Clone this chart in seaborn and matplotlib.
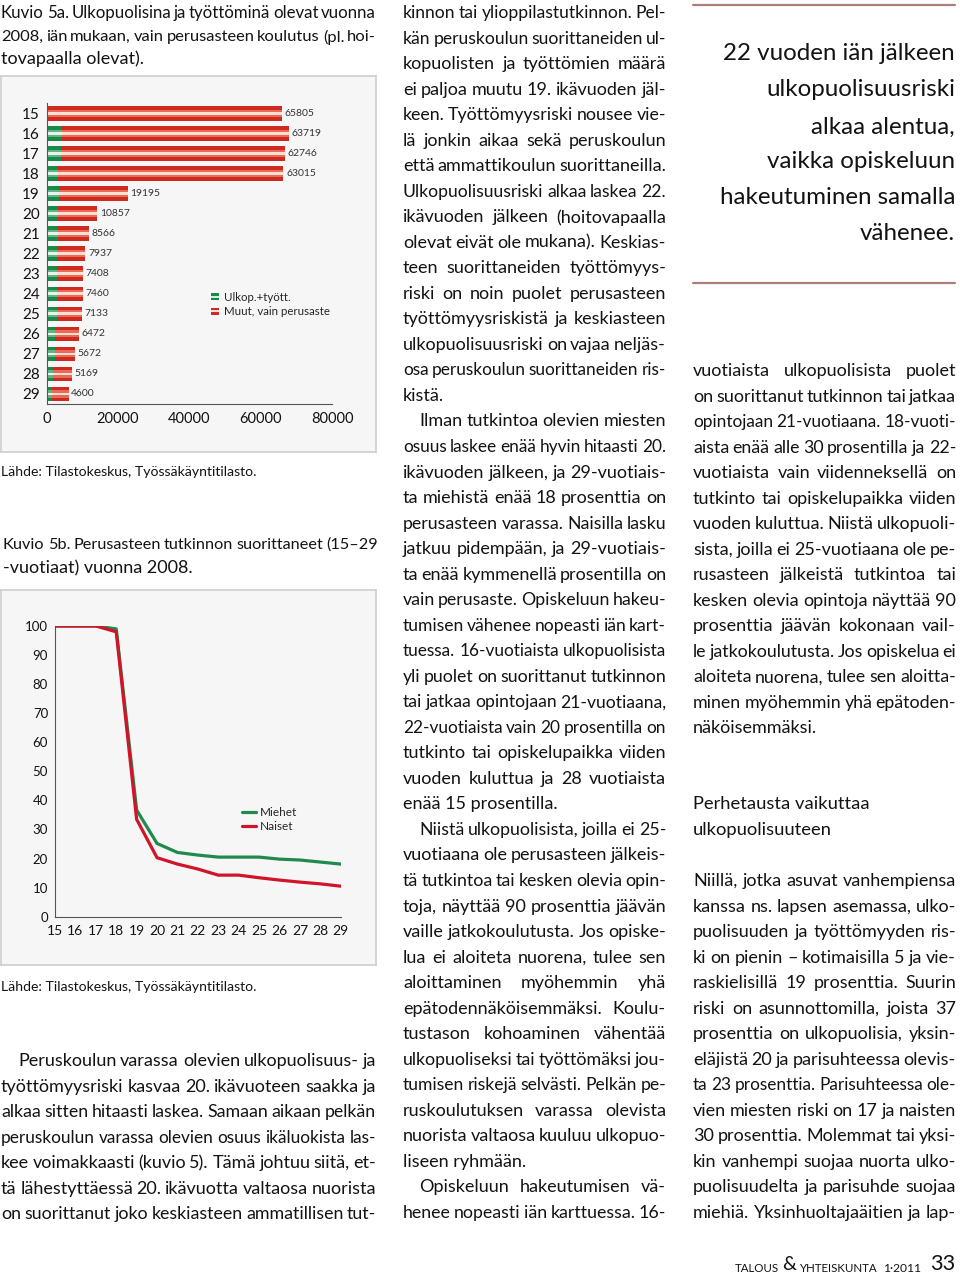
import matplotlib
matplotlib.use('Agg')
import matplotlib.pyplot as plt
from matplotlib.lines import Line2D
from matplotlib.patches import Patch
from matplotlib.legend_handler import HandlerTuple
import seaborn as sns
import pandas as pd

# Kuvio 5a: counts by age (vain perusaste)
ages = [str(a) for a in range(15, 30)]
ulkop_tyott = [150, 4200, 4000, 3250, 3530, 3350, 3250, 2970, 2800, 2800, 2800, 2500, 2250, 1850, 1570]
muut_perusaste = [65805, 63719, 62746, 63015, 19195, 10857, 8566, 7937, 7408, 7460, 7133, 6472, 5672, 5169, 4600]
x_ticks_5a = [0, 20000, 40000, 60000, 80000]

# Kuvio 5b: share with only basic education, %
ika = list(range(15, 30))
miehet = [100, 100, 100, 99, 36.7, 25.2, 22.1, 21.2, 20.5, 20.5, 20.5, 19.8, 19.5, 18.8, 18.1]
naiset = [100, 100, 100, 98, 33.5, 20.3, 18.1, 16.4, 14.3, 14.3, 13.4, 12.6, 11.9, 11.3, 10.5]

caption_5a = ["Kuvio 5a. Ulkopuolisina ja työttöminä olevat vuonna",
              "2008, iän mukaan, vain perusasteen koulutus (pl. hoi-",
              "tovapaalla olevat)."]
caption_5b = ["Kuvio 5b. Perusasteen tutkinnon suorittaneet (15–29",
              "-vuotiaat) vuonna 2008."]
source = "Lähde: Tilastokeskus, Työssäkäyntitilasto."

left_text = [(["Peruskoulun varassa olevien ulkopuolisuus- ja",
               "työttömyysriski kasvaa 20. ikävuoteen saakka ja",
               "alkaa sitten hitaasti laskea. Samaan aikaan pelkän",
               "peruskoulun varassa olevien osuus ikäluokista las-",
               "kee voimakkaasti (kuvio 5). Tämä johtuu siitä, et-",
               "tä lähestyttäessä 20. ikävuotta valtaosa nuorista",
               "on suorittanut joko keskiasteen ammatillisen tut-"], True, False)]

middle_text = [
    (["kinnon tai ylioppilastutkinnon. Pel-",
      "kän peruskoulun suorittaneiden ul-",
      "kopuolisten ja työttömien määrä",
      "ei paljoa muutu 19. ikävuoden jäl-",
      "keen. Työttömyysriski nousee vie-",
      "lä jonkin aikaa sekä peruskoulun",
      "että ammattikoulun suorittaneilla.",
      "Ulkopuolisuusriski alkaa laskea 22.",
      "ikävuoden jälkeen (hoitovapaalla",
      "olevat eivät ole mukana). Keskias-",
      "teen suorittaneiden työttömyys-",
      "riski on noin puolet perusasteen",
      "työttömyysriskistä ja keskiasteen",
      "ulkopuolisuusriski on vajaa neljäs-",
      "osa peruskoulun suorittaneiden ris-",
      "kistä."], False, True),
    (["Ilman tutkintoa olevien miesten",
      "osuus laskee enää hyvin hitaasti 20.",
      "ikävuoden jälkeen, ja 29-vuotiais-",
      "ta miehistä enää 18 prosenttia on",
      "perusasteen varassa. Naisilla lasku",
      "jatkuu pidempään, ja 29-vuotiais-",
      "ta enää kymmenellä prosentilla on",
      "vain perusaste. Opiskeluun hakeu-",
      "tumisen vähenee nopeasti iän kart-",
      "tuessa. 16-vuotiaista ulkopuolisista",
      "yli puolet on suorittanut tutkinnon",
      "tai jatkaa opintojaan 21-vuotiaana,",
      "22-vuotiaista vain 20 prosentilla on",
      "tutkinto tai opiskelupaikka viiden",
      "vuoden kuluttua ja 28 vuotiaista",
      "enää 15 prosentilla."], True, True),
    (["Niistä ulkopuolisista, joilla ei 25-",
      "vuotiaana ole perusasteen jälkeis-",
      "tä tutkintoa tai kesken olevia opin-",
      "toja, näyttää 90 prosenttia jäävän",
      "vaille jatkokoulutusta. Jos opiske-",
      "lua ei aloiteta nuorena, tulee sen",
      "aloittaminen myöhemmin yhä",
      "epätodennäköisemmäksi. Koulu-",
      "tustason kohoaminen vähentää",
      "ulkopuoliseksi tai työttömäksi jou-",
      "tumisen riskejä selvästi. Pelkän pe-",
      "ruskoulutuksen varassa olevista",
      "nuorista valtaosa kuuluu ulkopuo-",
      "liseen ryhmään."], True, True),
    (["Opiskeluun hakeutumisen vä-",
      "henee nopeasti iän karttuessa. 16-"], True, False),
]

quote = ["22 vuoden iän jälkeen", "ulkopuolisuusriski", "alkaa alentua,",
         "vaikka opiskeluun", "hakeutuminen samalla", "vähenee."]

right_text_a = [(["vuotiaista ulkopuolisista puolet",
                  "on suorittanut tutkinnon tai jatkaa",
                  "opintojaan 21-vuotiaana. 18-vuoti-",
                  "aista enää alle 30 prosentilla ja 22-",
                  "vuotiaista vain viidenneksellä on",
                  "tutkinto tai opiskelupaikka viiden",
                  "vuoden kuluttua. Niistä ulkopuoli-",
                  "sista, joilla ei 25-vuotiaana ole pe-",
                  "rusasteen jälkeistä tutkintoa tai",
                  "kesken olevia opintoja näyttää 90",
                  "prosenttia jäävän kokonaan vail-",
                  "le jatkokoulutusta. Jos opiskelua ei",
                  "aloiteta nuorena, tulee sen aloitta-",
                  "minen myöhemmin yhä epätoden-",
                  "näköisemmäksi."], False, True)]
heading = ["Perhetausta vaikuttaa", "ulkopuolisuuteen"]
right_text_b = [(["Niillä, jotka asuvat vanhempiensa",
                  "kanssa ns. lapsen asemassa, ulko-",
                  "puolisuuden ja työttömyyden ris-",
                  "ki on pienin – kotimaisilla 5 ja vie-",
                  "raskielisillä 19 prosenttia. Suurin",
                  "riski on asunnottomilla, joista 37",
                  "prosenttia on ulkopuolisia, yksin-",
                  "eläjistä 20 ja parisuhteessa olevis-",
                  "ta 23 prosenttia. Parisuhteessa ole-",
                  "vien miesten riski on 17 ja naisten",
                  "30 prosenttia. Molemmat tai yksi-",
                  "kin vanhempi suojaa nuorta ulko-",
                  "puolisuudelta ja parisuhde suojaa",
                  "miehiä. Yksinhuoltajaäitien ja lap-"], False, False)]

sns.set_theme(style='white')
plt.rcParams['font.family'] = ['Lato', 'DejaVu Sans']
INK = '#141212'

W, H = 960, 1276
fig = plt.figure(figsize=(W / 100, H / 100), dpi=100)
fig.patch.set_facecolor('white')
renderer = fig.canvas.get_renderer()


def fx(x):
    return x / W


def fy(y):
    return 1 - y / H


def box(x0, y0, x1, y1):
    return [fx(x0), fy(y1), (x1 - x0) / W, (y1 - y0) / H]


def text_width(s, size):
    t = fig.text(0, 0, s, fontsize=size)
    w = t.get_window_extent(renderer).width
    t.remove()
    return w


def fit_size(s, width, base=10):
    return base * width / text_width(s, base)


def put_line(s, x0, x1, y, size, justify=True, **kw):
    words = s.split(' ')
    if not justify or len(words) < 2:
        fig.text(fx(x0), fy(y), s, fontsize=size, va='center', color=INK, **kw)
        return
    widths = [text_width(w, size) for w in words]
    gap = (x1 - x0 - sum(widths)) / (len(words) - 1)
    # shrink a too-tight line a little
    while gap < size * 0.22:
        size *= 0.985
        widths = [text_width(w, size) for w in words]
        gap = (x1 - x0 - sum(widths)) / (len(words) - 1)
    x = x0
    for w, wd in zip(words, widths):
        fig.text(fx(x), fy(y), w, fontsize=size, va='center', color=INK, **kw)
        x += wd + gap


def draw_block(paras, x0, x1, y0, size, step=25.53, indent=16):
    y = y0
    for lines, indented, closed in paras:
        for i, s in enumerate(lines):
            start = x0 + (indent if indented and i == 0 else 0)
            last = closed and i == len(lines) - 1
            put_line(s, start, x1, y, size, justify=not last)
            y += step


BODY = 13

# ---- Kuvio 5a ----
put_line(caption_5a[0], 1, 376, 13, BODY)
put_line(caption_5a[1], 1, 376, 37, BODY)
put_line(caption_5a[2], 1, 376, 59, BODY, justify=False)

panel1 = fig.add_axes(box(1, 76, 376, 452))
panel1.set_facecolor('#f6f6f6')
panel1.set_xticks([])
panel1.set_yticks([])
for sp in panel1.spines.values():
    sp.set_color('#cfcfcf')

ax1 = fig.add_axes(box(46.5, 103.3, 332.3, 404))
ax1.set_facecolor('none')
totals = [a + b for a, b in zip(ulkop_tyott, muut_perusaste)]
red_shades = ['#cf2a20', '#ea6a55', '#fbe0d4']
green_shades = ['#178a4a', '#62b486', '#e6f4ea']
for vals, shades in [(totals, red_shades), (ulkop_tyott, green_shades)]:
    for color, w in zip(shades, [0.72, 0.36, 0.13]):
        sns.barplot(x=vals, y=ages, orient='h', color=color, width=w, saturation=1,
                    errorbar=None, linewidth=0, ax=ax1)
ax1.bar_label(ax1.containers[0], labels=[str(v) for v in muut_perusaste],
              padding=2, fontsize=7.5, color='#333333')
ax1.set_xlim(0, 80000)
ax1.set_ylim(14.5, -0.5)
ax1.set_xticks(x_ticks_5a)
ax1.set_xticklabels([str(t) for t in x_ticks_5a])
ax1.set_xlabel('')
ax1.set_ylabel('')
ax1.tick_params(axis='x', direction='in', length=3, width=0.8, color='#555555',
                labelsize=10.5, pad=6, labelcolor=INK)
ax1.tick_params(axis='y', length=0, labelsize=11, pad=5, labelcolor=INK)
for side in ['top', 'right']:
    ax1.spines[side].set_visible(False)
for side in ['left', 'bottom']:
    ax1.spines[side].set_color('#555555')
    ax1.spines[side].set_linewidth(0.8)
handles_5a = [(Patch(facecolor=green_shades[0], edgecolor='none'), Line2D([], [], color='white', lw=1.2)),
              (Patch(facecolor=red_shades[0], edgecolor='none'), Line2D([], [], color='white', lw=1.2))]
ax1.legend(handles_5a, ['Ulkop.+tyött.', 'Muut, vain perusaste'],
           handler_map={tuple: HandlerTuple(ndivide=1, pad=0)},
           loc='center left', bbox_to_anchor=(0.575, 0.331), frameon=False,
           fontsize=8.3, handlelength=0.75, handleheight=0.55, handletextpad=0.35,
           labelspacing=0.3, borderpad=0, borderaxespad=0)

fig.text(fx(1), fy(472), source, fontsize=fit_size(source, 255), va='center', color=INK)

# ---- Kuvio 5b ----
put_line(caption_5b[0], 3, 378, 545, BODY)
put_line(caption_5b[1], 3, 378, 568, BODY, justify=False)

panel2 = fig.add_axes(box(1, 590, 376, 965))
panel2.set_facecolor('#f6f6f6')
panel2.set_xticks([])
panel2.set_yticks([])
for sp in panel2.spines.values():
    sp.set_color('#cfcfcf')

ax2 = fig.add_axes(box(55, 626, 340.7, 916.7))
ax2.set_facecolor('none')
df = pd.DataFrame({'ika': ika * 2, 'osuus': miehet + naiset,
                   'sukupuoli': ['Miehet'] * len(ika) + ['Naiset'] * len(ika)})
palette = {'Miehet': '#1f8a4c', 'Naiset': '#d0142a'}
sns.lineplot(data=df, x='ika', y='osuus', hue='sukupuoli', palette=palette,
             linewidth=2.3, legend=False, ax=ax2)
ax2.set_xlim(15, 29)
ax2.set_ylim(0, 100)
ax2.set_xticks(ika)
ax2.set_yticks(range(0, 101, 10))
ax2.set_xlabel('')
ax2.set_ylabel('')
ax2.tick_params(axis='x', direction='in', length=3, width=0.8, color='#555555',
                labelsize=10, pad=6, labelcolor=INK)
ax2.tick_params(axis='y', direction='out', length=3, width=0.8, color='#555555',
                labelsize=9.5, pad=2, labelcolor=INK)
for side in ['top', 'right']:
    ax2.spines[side].set_visible(False)
for side in ['left', 'bottom']:
    ax2.spines[side].set_color('#555555')
    ax2.spines[side].set_linewidth(0.8)
ax2.legend([Line2D([], [], color=palette[k], lw=2.3) for k in palette], list(palette),
           loc='center left', bbox_to_anchor=(0.655, 0.333), frameon=False,
           fontsize=8.5, handlelength=1.15, handletextpad=0.35, labelspacing=0.25,
           borderpad=0, borderaxespad=0)

fig.text(fx(1), fy(987), source, fontsize=fit_size(source, 255), va='center', color=INK)

# ---- body text ----
draw_block(left_text, 1, 376, 1061, BODY, indent=17)
draw_block(middle_text, 403, 666, 13, BODY)

# right column: pull quote between rules
rule_color = '#b07c7c'
for yy in [5, 283]:
    fig.add_artist(Line2D([fx(693), fx(955)], [fy(yy), fy(yy)], color=rule_color, lw=1.6))
qsize = fit_size(quote[0], 233)
for s, yy in zip(quote, [54, 90, 127, 162, 198, 234]):
    fig.text(fx(955), fy(yy), s, fontsize=qsize, ha='right', va='center', color=INK)

draw_block(right_text_a, 693, 956, 371, BODY)
hsize = fit_size(heading[0], 176)
fig.text(fx(693), fy(804), heading[0], fontsize=hsize, va='center', color=INK)
fig.text(fx(693), fy(830), heading[1], fontsize=hsize, va='center', color=INK)
draw_block(right_text_b, 693, 956, 881, BODY)

# footer
fsz = fit_size('TALOUS', 44)
fig.text(fx(735), fy(1268), 'TALOUS', fontsize=fsz, va='center', color=INK)
fig.text(fx(782), fy(1265), '&', fontsize=fsz * 1.7, va='center', color=INK)
fig.text(fx(799), fy(1268), 'YHTEISKUNTA', fontsize=fsz, va='center', color=INK)
fig.text(fx(884), fy(1268), '1·2011', fontsize=fsz * 1.05, va='center', color=INK)
fig.text(fx(930), fy(1264), '33', fontsize=fit_size('33', 25), va='center', color=INK)

fig.savefig('out.png', dpi=100, facecolor='white')
